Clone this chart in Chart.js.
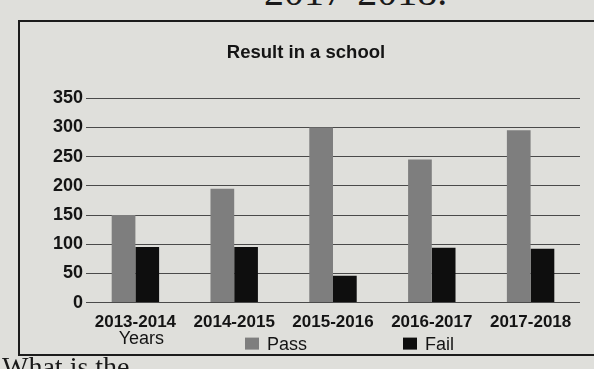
<!DOCTYPE html>
<html>
<head>
<meta charset="utf-8">
<title>Result in a school</title>
<script src="https://cdn.jsdelivr.net/npm/chart.js@4/dist/chart.umd.min.js"></script>
<style>
  html, body { margin: 0; padding: 0; }
  body {
    width: 594px; height: 369px; overflow: hidden; position: relative;
    background: #dfdfdb;
    font-family: "Liberation Sans", Arial, sans-serif;
  }
  .head {
    position: absolute; left: 264px; top: -28px; line-height: 40px;
    font-size: 40px; font-family: "Liberation Serif", "Times New Roman", serif; color: #1a1a1a;
  }
  .after {
    position: absolute; left: 2px; top: 353px; line-height: 28px;
    font-size: 28px; font-family: "Liberation Serif", "Times New Roman", serif; color: #1a1a1a;
  }
  .frame {
    position: absolute; left: 18px; top: 20px; width: 620px; height: 332px;
    border: 2px solid #1c1c1c;
  }
  .plot {
    position: absolute; left: 0; top: 0; width: 575px; height: 332px;
  }
</style>
</head>
<body>
<div class="head">2017-2018.</div>
<div class="frame">
  <div class="plot"><canvas id="chart"></canvas></div>
</div>
<div class="after">What is the</div>

<script>
// Academic years shown along the bottom
const years = ["2013-2014", "2014-2015", "2015-2016", "2016-2017", "2017-2018"];
// Number of students who passed and failed each year
const passCounts = [150, 195, 300, 245, 295];
const failCounts = [95, 95, 46, 94, 92];
// Vertical axis ticks
const yTicks = [0, 50, 100, 150, 200, 250, 300, 350];

const PASS_COLOR = "#7e7e7e";
const FAIL_COLOR = "#0e0e0e";
const INK = "#141414";
const SANS = "'Liberation Sans', Arial, sans-serif";

// Bottom row: the axis caption on the left, then a swatch for each series
const bottomRow = {
  id: "bottomRow",
  afterDraw(chart) {
    const { ctx, chartArea, scales } = chart;
    const rowY = chartArea.bottom + 41;
    ctx.save();
    ctx.fillStyle = INK;
    ctx.font = "18px " + SANS;
    ctx.textBaseline = "middle";
    ctx.textAlign = "center";
    ctx.fillText("Years", scales.x.getPixelForValue(0) + 6, rowY - 5);

    const mid = (chartArea.left + chartArea.right) / 2;
    const spots = [mid - 88, mid + 70];
    ctx.textAlign = "left";
    chart.data.datasets.forEach((ds, i) => {
      const x = spots[i];
      ctx.fillStyle = ds.backgroundColor;
      ctx.fillRect(x, rowY - 6, 14, 12);
      ctx.fillStyle = INK;
      ctx.fillText(ds.label, x + 22, rowY + 1);
    });
    ctx.restore();
  }
};

new Chart(document.getElementById("chart"), {
  type: "bar",
  data: {
    labels: years,
    datasets: [
      { label: "Pass", data: passCounts, backgroundColor: PASS_COLOR },
      { label: "Fail", data: failCounts, backgroundColor: FAIL_COLOR }
    ]
  },
  plugins: [bottomRow],
  options: {
    responsive: true,
    maintainAspectRatio: false,
    animation: false,
    layout: { padding: { left: 12, right: 15, top: 0, bottom: 11 } },
    datasets: { bar: { categoryPercentage: 0.48, barPercentage: 1.0 } },
    plugins: {
      legend: { display: false },
      tooltip: { enabled: false },
      title: {
        display: true,
        text: "Result in a school",
        color: INK,
        font: { family: SANS, size: 18.5, weight: "bold" },
        padding: { top: 20, bottom: 34 }
      }
    },
    scales: {
      x: {
        grid: { display: false, drawTicks: false },
        border: { display: false },
        ticks: {
          color: INK,
          padding: 10,
          maxRotation: 0,
          autoSkip: false,
          font: { family: SANS, size: 17, weight: "bold" }
        }
      },
      y: {
        min: yTicks[0],
        max: yTicks[yTicks.length - 1],
        afterBuildTicks(axis) { axis.ticks = yTicks.map(v => ({ value: v })); },
        afterFit(axis) { axis.width = 54; },
        grid: { color: "#4a4a4a", lineWidth: 1, drawTicks: false },
        border: { display: false },
        ticks: {
          color: INK,
          padding: 3,
          font: { family: SANS, size: 18, weight: "bold" }
        }
      }
    }
  }
});
</script>
</body>
</html>
